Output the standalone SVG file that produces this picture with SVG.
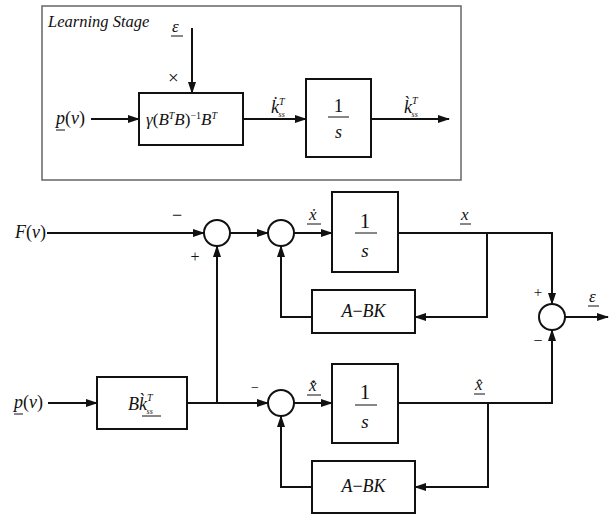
<svg xmlns="http://www.w3.org/2000/svg" width="611" height="515" viewBox="0 0 611 515" font-family="'Liberation Serif', 'DejaVu Serif', 'Times New Roman', serif">
<style>
.b{fill:#fff;stroke:#111;stroke-width:2}
.c{fill:#fff;stroke:#111;stroke-width:2}
.w{fill:none;stroke:#111;stroke-width:2}
.u{stroke:#111;stroke-width:1}
.t{font-family:'Liberation Serif','DejaVu Serif','Times New Roman',serif;font-style:italic;fill:#111}
.n{font-style:normal}
.sup{font-size:10px}
</style>
<defs>
<marker id="ah" markerUnits="userSpaceOnUse" markerWidth="12" markerHeight="8" refX="11" refY="4" orient="auto">
<path d="M0,0 L12,4 L0,8 z" fill="#111"/>
</marker>
</defs>
<rect x="0" y="0" width="611" height="515" fill="#fff"/>
<g id="learning-stage">
<rect x="42" y="6" width="419" height="174" fill="none" stroke="#666" stroke-width="1.5"/>
<text class="t" x="48" y="27" font-size="16.5">Learning  Stage</text>
</g>
<g id="eps-in">
<text class="t" x="172" y="32" font-size="17">ε</text>
<line class="u" x1="171" y1="36" x2="183" y2="36"/>
<text class="t n" x="168" y="84" font-size="19" fill="#111">×</text>
</g>
<g id="p-in-top">
<text class="t" x="56" y="124" font-size="18">p<tspan class="n">(</tspan>v<tspan class="n">)</tspan></text>
<line class="u" x1="56" y1="130" x2="65" y2="130"/>
</g>
<g id="gain-block">
<rect class="b" x="139" y="93" width="104" height="52"/>
<text class="t" x="146" y="125" font-size="17">γ<tspan class="n">(</tspan>B<tspan class="sup" dy="-6">T</tspan><tspan dy="6">B</tspan><tspan class="n">)</tspan><tspan class="sup n" dy="-6">−1</tspan><tspan dy="6">B</tspan><tspan class="sup" dy="-6">T</tspan></text>
</g>
<g id="kdot-label">
<text class="t" x="271" y="113" font-size="18">k̇<tspan class="sup" dy="-8">T</tspan><tspan font-size="8" dx="-6" dy="12">ss</tspan></text>
<line class="u" x1="270" y1="119" x2="292" y2="119"/>
</g>
<g id="integ-top">
<rect class="b" x="306" y="79" width="65" height="78"/>
<text class="t n" x="338.5" y="112" font-size="19" text-anchor="middle">1</text>
<line class="u" x1="328" y1="117" x2="349" y2="117"/>
<text class="t" x="338.5" y="138" font-size="18" text-anchor="middle">s</text>
</g>
<g id="k-label">
<text class="t" x="404" y="113" font-size="18">k̀<tspan class="sup" dy="-9">T</tspan><tspan font-size="8" dx="-6" dy="13">ss</tspan></text>
<line class="u" x1="403" y1="119" x2="425" y2="119"/>
</g>
<g id="F-in">
<text class="t" x="15" y="238" font-size="18">F<tspan class="n">(</tspan>v<tspan class="n">)</tspan></text>
</g>
<g id="sum1">
<circle class="c" cx="217" cy="233" r="13"/>
<text class="t n" x="177" y="221" font-size="18" text-anchor="middle">−</text>
<text class="t n" x="195" y="262" font-size="16" text-anchor="middle">+</text>
</g>
<g id="sum2">
<circle class="c" cx="281" cy="233" r="13"/>
</g>
<g id="xdot-label">
<text class="t" x="309" y="220" font-size="17">ẋ</text>
<line class="u" x1="307" y1="224" x2="321" y2="224"/>
</g>
<g id="integ1">
<rect class="b" x="332" y="192" width="66" height="80"/>
<text class="t n" x="365" y="228" font-size="21" text-anchor="middle">1</text>
<line class="u" x1="355" y1="233" x2="377" y2="233"/>
<text class="t" x="365" y="257" font-size="19" text-anchor="middle">s</text>
</g>
<g id="x-label">
<text class="t" x="461" y="220" font-size="17">x</text>
<line class="u" x1="460" y1="224" x2="471" y2="224"/>
</g>
<g id="abk1">
<rect class="b" x="312" y="290" width="103" height="43"/>
<text class="t" x="363.5" y="317" font-size="18" text-anchor="middle">A<tspan class="n">−</tspan>BK</text>
</g>
<g id="sum3">
<circle class="c" cx="552" cy="317" r="13"/>
<text class="t n" x="538" y="297" font-size="15" text-anchor="middle">+</text>
<text class="t n" x="538" y="346" font-size="16" text-anchor="middle">−</text>
</g>
<g id="eps-out">
<text class="t" x="589" y="302" font-size="17">ε</text>
<line class="u" x1="588" y1="306" x2="599" y2="306"/>
</g>
<g id="p-in-bottom">
<text class="t" x="14" y="408" font-size="18">p<tspan class="n">(</tspan>v<tspan class="n">)</tspan></text>
<line class="u" x1="14" y1="414" x2="23" y2="414"/>
</g>
<g id="bk-block">
<rect class="b" x="97" y="377" width="90" height="52"/>
<text class="t" x="128" y="410" font-size="18">Bk̀<tspan class="sup" dy="-9">T</tspan><tspan font-size="8" dx="-6" dy="13">ss</tspan></text>
<line class="u" x1="142" y1="416" x2="161" y2="416"/>
</g>
<g id="sum4">
<circle class="c" cx="281" cy="403" r="13"/>
<text class="t n" x="255" y="392" font-size="14" text-anchor="middle">−</text>
</g>
<g id="xhatdot-label">
<text class="t" x="309" y="391" font-size="17">x̂̇</text>
<line class="u" x1="307" y1="395" x2="321" y2="395"/>
</g>
<g id="integ2">
<rect class="b" x="332" y="364" width="66" height="79"/>
<text class="t n" x="365" y="399" font-size="21" text-anchor="middle">1</text>
<line class="u" x1="355" y1="405" x2="377" y2="405"/>
<text class="t" x="365" y="428" font-size="19" text-anchor="middle">s</text>
</g>
<g id="xhat-label">
<text class="t" x="475" y="390" font-size="17">x̂</text>
<line class="u" x1="474" y1="394" x2="485" y2="394"/>
</g>
<g id="abk2">
<rect class="b" x="312" y="461" width="103" height="52"/>
<text class="t" x="363.5" y="492" font-size="18" text-anchor="middle">A<tspan class="n">−</tspan>BK</text>
</g>
<g id="connectors">
<path class="w" d="M192,28 V93" marker-end="url(#ah)"/>
<path class="w" d="M91,119 H139" marker-end="url(#ah)"/>
<path class="w" d="M243,119 H306" marker-end="url(#ah)"/>
<path class="w" d="M371,119 H449" marker-end="url(#ah)"/>
<path class="w" d="M47,233 H204" marker-end="url(#ah)"/>
<path class="w" d="M230,233 H268" marker-end="url(#ah)"/>
<path class="w" d="M294,233 H332" marker-end="url(#ah)"/>
<path class="w" d="M398,233 H552 V304" marker-end="url(#ah)"/>
<path class="w" d="M487,233 V317 H415" marker-end="url(#ah)"/>
<path class="w" d="M312,317 H281 V246" marker-end="url(#ah)"/>
<path class="w" d="M48,403 H97" marker-end="url(#ah)"/>
<path class="w" d="M187,403 H268" marker-end="url(#ah)"/>
<path class="w" d="M217,403 V246" marker-end="url(#ah)"/>
<path class="w" d="M294,403 H332" marker-end="url(#ah)"/>
<path class="w" d="M398,403 H552 V330" marker-end="url(#ah)"/>
<path class="w" d="M488,403 V487 H415" marker-end="url(#ah)"/>
<path class="w" d="M312,487 H281 V416" marker-end="url(#ah)"/>
<path class="w" d="M565,317 H608" marker-end="url(#ah)"/>
</g>
</svg>
